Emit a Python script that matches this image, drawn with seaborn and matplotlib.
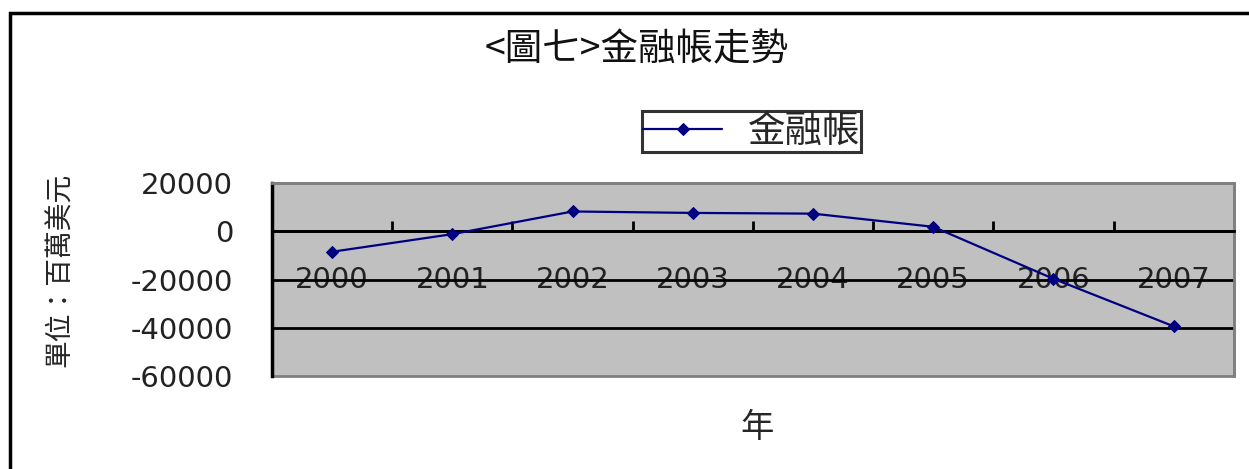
import matplotlib
matplotlib.use("Agg")
import matplotlib.pyplot as plt
from matplotlib.patches import Rectangle
import seaborn as sns
import pandas as pd

years = ["2000", "2001", "2002", "2003", "2004", "2005", "2006", "2007"]
financial_account = [-8500, -1200, 8200, 7600, 7300, 1850, -19700, -39400]
y_ticks = [20000, 0, -20000, -40000, -60000]
grid_levels = [0, -20000, -40000]

title = "<圖七>金融帳走勢"
series_name = "金融帳"
x_label = "年"
y_label = "單位：百萬美元"

sns.set_style("white")
plt.rcParams["font.family"] = ["DejaVu Sans", "Noto Sans CJK TC"]
cjk = ["Noto Sans CJK TC", "DejaVu Sans"]

df = pd.DataFrame({"year": years, "value": financial_account})

fig = plt.figure(figsize=(12.49, 4.69), dpi=100)
ax = fig.add_axes([0.2178, 0.1983, 0.770, 0.4115])
ax.set_facecolor("#C0C0C0")

for lvl in grid_levels:
    ax.axhline(lvl, color="black", lw=2, zorder=1)

sns.lineplot(data=df, x="year", y="value", ax=ax, color="#000080",
             lw=1.6, marker="D", markersize=6, markeredgecolor="#000080",
             label=series_name, zorder=3)

ax.set_ylim(-60000, 20000)
ax.set_xlim(-0.5, len(years) - 0.5)
ax.set_yticks(y_ticks)
ax.set_yticklabels([str(v) for v in y_ticks])

ax.set_xticks(range(len(years)))
ax.set_xticklabels(years)
ax.set_xticks([i + 0.5 for i in range(len(years) - 1)], minor=True)
ax.tick_params(axis="both", which="major", labelsize=21, labelcolor="#222222")
ax.tick_params(axis="x", which="major", bottom=True, length=0, pad=25)
ax.tick_params(axis="x", which="minor", bottom=True, direction="in",
               length=7, width=2, color="black")
ax.tick_params(axis="y", length=0, pad=28)

ax.spines["bottom"].set_position(("data", 0))
ax.spines["bottom"].set_color("black")
ax.spines["bottom"].set_linewidth(2)
ax.spines["left"].set_color("black")
ax.spines["left"].set_linewidth(2.5)
for s in ["top", "right"]:
    ax.spines[s].set_color("#808080")
    ax.spines[s].set_linewidth(2)
ax.patch.set_edgecolor("#808080")
ax.patch.set_linewidth(2)

ax.set_xlabel(x_label, family=cjk, fontsize=24, va="center")
ax.xaxis.set_label_coords(0.504, -0.269)
ax.set_ylabel(y_label, family=cjk, fontsize=20, va="center")
ax.yaxis.set_label_coords(-0.2204, 0.549)

fig.text(0.51, 0.893, title, family=cjk, fontsize=27, ha="center",
         va="center", color="#111111")

leg = ax.legend(loc="center", bbox_to_anchor=(0.602, 0.72),
                bbox_transform=fig.transFigure, prop={"family": cjk, "size": 27},
                fancybox=False, frameon=True, handlelength=2.1,
                handletextpad=0.7, borderpad=0.02, borderaxespad=0)
leg.get_frame().set_edgecolor("black")
leg.get_frame().set_linewidth(2.2)

fig.add_artist(Rectangle((10 / 1249, -0.1), 1.2, 1.1 - 13 / 469,
                         transform=fig.transFigure, fill=False,
                         edgecolor="black", lw=2.5))

fig.savefig("out.png", dpi=100)
